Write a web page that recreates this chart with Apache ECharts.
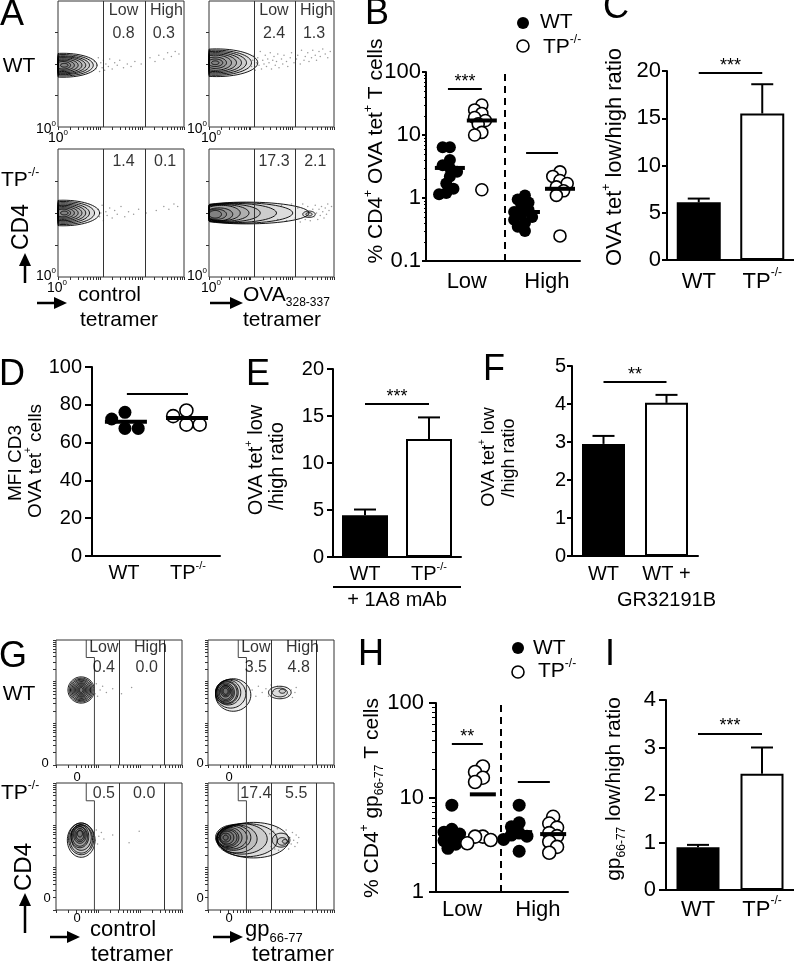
<!DOCTYPE html>
<html>
<head>
<meta charset="utf-8">
<title>Tetramer binding, WT vs TP-/-</title>
<script src="https://cdn.jsdelivr.net/npm/echarts@6/dist/echarts.min.js"></script>
<style>
  html, body { margin: 0; padding: 0; background: #fff; }
  #fig { width: 794px; height: 962px; }
</style>
</head>
<body>
<div id="fig"></div>
<script>
const FONT = '"Liberation Sans", Arial, Helvetica, sans-serif';

/* ---------- A: OVA tetramer flow plots (WT ctrl, WT OVA, TP ctrl, TP OVA) ---------- */
const aLowPct = ['0.8', '2.4', '1.4', '17.3'];
const aHighPct = ['0.3', '1.3', '0.1', '2.1'];
const aGates = [36, 69];
// contour rings: [centre x, centre y, half width, half height] on 0-100 display axes
const aContours = [
  [[4,49,27,9.5],[4,49,24,8.5],[4,49,21,7.5],[4,49,18,6.8],[4,49,15,6],[4,49,12,5],[4,49,9,4],[4,49,6,3],[5,49,3,1.5]],
  [[6,51,33,11],[5,51,29,10],[5,51,25,9],[5,51,21,8],[5,51,17,7],[5,51,13,6],[5,51,9,4.5],[5,51,6,3],[5,51,3,1.5]],
  [[4,50,29,10],[4,50,25,9],[4,50,21,8],[4,50,18,7],[4,50,15,6],[4,50,12,5],[4,50,9,4],[4,50,6,3],[5,50,3,1.5]],
  [[30,50,50,8.5],[25,50,42,8],[20,50,34,7.5],[15,50,26,7],[12,50,20,6.5],[10,50,15,6],[8,49,11,5],[6,49,8,4],[5,49,5,3],[80,49,5,2.5],[80,49,2.5,1.3]]
];
const aDots = [
  [[29,52],[30,46],[31,49],[32,55],[33,44],[34,51],[35,47],[36,53],[37,45],[38,50],[40,48],[41,54],[43,46],[45,51],[47,49],[49,53],[52,47],[55,50],[58,48],[61,52],[66,50],[73,55],[77,52],[80,57],[84,54],[87,59],[90,56],[93,60],[96,58]],
  [[34,48],[35,53],[36,57],[37,45],[38,51],[39,55],[40,49],[41,60],[42,46],[43,53],[44,50],[45,57],[46,48],[47,54],[48,51],[49,59],[50,46],[51,53],[52,56],[53,49],[54,52],[55,58],[56,47],[58,54],[59,50],[60,57],[62,52],[63,48],[65,55],[66,59],[68,51],[70,54],[71,57],[73,50],[74,61],[76,53],[77,56],[79,59],[80,52],[82,55],[83,61],[85,57],[86,53],[88,60],[89,56],[91,62],[93,58],[95,55],[97,60]],
  [[32,53],[33,47],[34,50],[35,56],[36,44],[38,51],[39,48],[41,54],[43,46],[45,52],[47,49],[50,55],[53,47],[56,51],[60,49],[64,53],[70,50],[78,52],[84,55],[88,53],[92,57],[95,55]],
  [[55,45],[58,56],[62,44],[66,57],[69,46],[71,54],[73,43],[75,57],[77,45],[79,55],[81,44],[83,53],[84,47],[85,56],[86,50],[87,45],[88,53],[89,48],[90,55],[91,51],[92,46],[93,54],[94,49],[95,57],[96,52],[98,55]]
];

/* ---------- B: % CD4+ OVA tet+ (log) ---------- */
const bWtLow = [6.4, 6.4, 4.0, 3.3, 3.0, 2.6, 2.2, 1.7, 1.4, 1.2, 1.15];
const bTpLow = [30, 25, 22, 19, 17, 15, 11, 10, 1.35];
const bWtHigh = [1.1, 0.95, 0.85, 0.75, 0.65, 0.6, 0.55, 0.5, 0.45, 0.4, 0.35, 0.3];
const bTpHigh = [2.6, 2.2, 1.9, 1.7, 1.5, 1.3, 1.1, 0.25];
const bMeans = [3.0, 17, 0.6, 1.4];
const bSig = [54, 5.2];

/* ---------- C ---------- */
const cCats = ['WT', 'TP-/-'];
const cMean = [6.1, 15.5];
const cErr = [6.5, 18.6];
const cSig = 19.8;

/* ---------- D: MFI CD3 ---------- */
const dWt = [76, 72.5, 67.5, 67.5];
const dTp = [77, 74, 69.5, 69.5];
const dMeans = [71, 73];
const dSig = 86;

/* ---------- E: + 1A8 mAb ---------- */
const eCats = ['WT', 'TP-/-'];
const eMean = [4.45, 12.55];
const eErr = [5.05, 14.85];
const eSig = 16.3;

/* ---------- F: GR32191B ---------- */
const fCats = ['WT', 'WT +\nGR32191B'];
const fMean = [2.95, 4.03];
const fErr = [3.16, 4.24];
const fSig = 4.58;

/* ---------- G: gp66-77 flow plots ---------- */
const gLowPct = ['0.4', '3.5', '0.5', '17.4'];
const gHighPct = ['0.0', '4.8', '0.0', '5.5'];
const gGates = [50.5, 86];
const gLowStep = [[30.5, 0], [30.5, 86], [24, 86], [24, 100]];
const gContours = [
  [[20,60,10.5,10.5],[20,60,9.5,9.5],[20,60,8.5,8.6],[20,60,7.5,7.8],[20,60,6.5,6.8],[20,60,5.5,5.8],[20,60,4.5,5],[20,60,3.5,4],[20,60,2.5,3],[20,60,1.5,2]],
  [[20,56,14,13],[18,57,12,11.5],[16,58,10,10],[15,58,9,9.2],[15,58,8,8.5],[14,58,7,7.5],[14,58,6,6.5],[14,58,5,5.5],[14,59,4,4.5],[14,59,3,3.5],[14,59,2,2.5],[57,58,9,5],[57,58,6,3.5],[59,59,2.5,1.6]],
  [[20,55,11,13.5],[20,56,10,12.5],[20,56,9,11.2],[20,57,8,10],[19,58,7,9],[19,58,6,7.8],[19,59,5,6.5],[19,59,4,5.2],[19,59,3,4],[19,60,2,2.5]],
  [[36,55,28,14],[31,55,24,13],[27,56,20,12],[23,56,16,11],[20,57,14,10],[19,57,12,9],[17,57,10,8],[16,57,8.5,7],[16,57,7,6],[15,57,5.5,5],[14,57,4,3.5],[14,57,2,2],[58,55,7,5.5],[59,54,4,3],[61,54,2,1.5]]
];
const gDots = [
  [[30,62],[31,57],[32,65],[33,55],[35,60],[37,63],[40,58],[45,61],[52,57],[60,62]],
  [[35,60],[38,55],[40,63],[43,58],[46,61],[48,55],[50,64],[52,59],[55,63],[62,62],[64,56],[66,60],[67,54],[69,58],[70,62]],
  [[30,60],[31,55],[32,63],[33,52],[34,58],[36,61],[38,56],[45,59],[58,53],[66,62]],
  [[49,60],[50,50],[52,62],[53,48],[55,64],[56,47],[62,63],[64,48],[65,57],[66,52],[67,61],[68,55],[69,50],[70,59],[71,53],[72,57]]
];

/* ---------- H: % CD4+ gp66-77 (log) ---------- */
const hWtLow = [8.3, 4.6, 4.3, 4.1, 3.8, 3.5, 3.2, 2.9];
const hTpLow = [21.3, 18.6, 16.2, 14.6, 3.85, 3.85, 3.55, 3.28];
const hWtHigh = [8.3, 5.4, 4.9, 4.2, 4.0, 3.9, 3.6, 2.7];
const hTpHigh = [6.25, 5.3, 4.8, 4.2, 3.9, 3.4, 3.0, 2.6];
const hMeans = [4.2, 10.8, 4.3, 4.1];
const hSig = [37, 14.6];

/* ---------- I ---------- */
const iCats = ['WT', 'TP-/-'];
const iMean = [0.9, 2.45];
const iErr = [0.95, 3.0];
const iSig = 3.3;

/* ================= helpers ================= */
const grid = [], xAxis = [], yAxis = [], series = [], graphic = [];

function rich(fs) {
  return {
    sup: { fontSize: Math.round(fs * 0.55), fontFamily: FONT, color: '#000', fill: '#000', verticalAlign: 'top', lineHeight: Math.round(fs * 0.6) },
    sub: { fontSize: Math.round(fs * 0.58), fontFamily: FONT, color: '#000', fill: '#000', verticalAlign: 'bottom', lineHeight: Math.round(fs * 0.6) }
  };
}
function lab(fs, extra) {
  return Object.assign({ show: true, color: '#000', fontSize: fs, fontFamily: FONT, rich: rich(fs),
    lineHeight: Math.round(fs * 1.3), showMinLabel: true, showMaxLabel: true, hideOverlap: false }, extra || {});
}
const LINE = { show: true, onZero: false, lineStyle: { color: '#000', width: 2 } };
function tick(len) { return { show: true, inside: false, length: len, lineStyle: { color: '#000', width: 2 } }; }

function addGrid(rect, extra) {
  grid.push(Object.assign({ left: rect[0], top: rect[1], width: rect[2], height: rect[3],
    containLabel: false, outerBoundsMode: 'none' }, extra || {}));
  return grid.length - 1;
}
function pushX(o) { xAxis.push(o); return xAxis.length - 1; }
function pushY(o) { yAxis.push(o); return yAxis.length - 1; }

function txt(x, y, text, fs, o) {
  o = o || {};
  return { type: 'text', x: x, y: y, rotation: o.rot || 0, silent: true, z: 100,
    style: { text: text, fontFamily: FONT, fontSize: fs, fill: '#000', align: o.align || 'center',
      verticalAlign: 'middle', lineHeight: Math.round(fs * 1.3), rich: rich(fs) } };
}
function arrow(x1, y1, x2, y2) {
  const a = Math.atan2(y2 - y1, x2 - x1), L = 13, W = 6;
  const bx = x2 - L * Math.cos(a), by = y2 - L * Math.sin(a);
  const nx = -Math.sin(a) * W, ny = Math.cos(a) * W;
  return [
    { type: 'line', silent: true, shape: { x1: x1, y1: y1, x2: bx, y2: by }, style: { stroke: '#000', lineWidth: 2.5 } },
    { type: 'polygon', silent: true, shape: { points: [[x2, y2], [bx + nx, by + ny], [bx - nx, by - ny]] }, style: { fill: '#000' } }
  ];
}

function logTicks(n) {
  const v = [];
  for (let d = 0; d < n; d++) for (let m = 1; m <= 9; m++) v.push((d + Math.log10(m)) / n * 100);
  v.push(100);
  return v;
}

// contour ring drawn through the axes, clamped to the plot box; the light fill
// builds up towards the dense core like a density plot
function ringItem(params, api) {
  const c = api.coord([api.value(0), api.value(1)]);
  const s = api.size([api.value(2), api.value(3)]);
  const cs = params.coordSys;
  const pts = [];
  for (let k = 0; k < 60; k++) {
    const t = k / 60 * Math.PI * 2;
    const px = Math.min(cs.x + cs.width, Math.max(cs.x, c[0] + s[0] * Math.cos(t)));
    const py = Math.min(cs.y + cs.height, Math.max(cs.y, c[1] + s[1] * Math.sin(t)));
    pts.push([px, py]);
  }
  return { type: 'polygon', shape: { points: pts }, style: { fill: 'rgba(0,0,0,0.07)', stroke: '#000', lineWidth: 0.9 } };
}

function errorBar(params, api) {
  const base = api.coord([api.value(0), api.value(1)]);
  const top = api.coord([api.value(0), api.value(2)]);
  return { type: 'group', children: [
    { type: 'line', shape: { x1: base[0], y1: base[1], x2: top[0], y2: top[1] }, style: { stroke: '#000', lineWidth: 2 } },
    { type: 'line', shape: { x1: top[0] - 11, y1: top[1], x2: top[0] + 11, y2: top[1] }, style: { stroke: '#000', lineWidth: 2 } }
  ] };
}

function sigPair(x0, x1, y, text) {
  return [
    { coord: [x0, y], lineStyle: { color: '#000', width: 2, type: 'solid' },
      label: { show: !!text, formatter: text || '', position: 'middle', distance: 0, color: '#000',
        fontSize: 18, fontFamily: FONT, lineHeight: 14 } },
    { coord: [x1, y] }
  ];
}
function dashAt(x) {
  return { xAxis: x, lineStyle: { color: '#000', width: 2, type: [7, 5] }, label: { show: false } };
}
function markLines(items) {
  return { silent: true, animation: false, symbol: 'none', data: items };
}

// simple beeswarm spread so that the dots of one group overlap only partly
function swarm(vals, cx, toPx, dot, ux, spread) {
  const f = spread || 1;
  const placed = [];
  return vals.map(function (v) {
    const y = toPx(v);
    let off = 0;
    for (let k = 0; k < 30; k++) {
      const o = (k % 2 ? -1 : 1) * Math.ceil(k / 2) * dot * 0.3 * f;
      if (placed.every(p => Math.hypot(p[0] - o, p[1] - y) >= dot * 0.6 * f)) { off = o; break; }
    }
    placed.push([off, y]);
    return [cx + off / ux, v];
  });
}

function dotSeries(xi, yi, pts, filled, size, ml) {
  const s = { type: 'scatter', xAxisIndex: xi, yAxisIndex: yi, data: pts, symbol: 'circle', symbolSize: size,
    animation: false, silent: true, z: 3,
    itemStyle: filled ? { color: '#000', opacity: 1 } : { color: '#fff', borderColor: '#000', borderWidth: 1.6, opacity: 1 } };
  if (ml) s.markLine = ml;
  return s;
}
function meanSeries(xi, yi, pts, w) {
  return { type: 'scatter', xAxisIndex: xi, yAxisIndex: yi, data: pts, symbol: 'rect', symbolSize: [w, 4],
    animation: false, silent: true, z: 5, itemStyle: { color: '#000', opacity: 1 } };
}

function logAxis(g, min, max, fs, tl, margin) {
  return { gridIndex: g, type: 'log', logBase: 10, min: min, max: max, position: 'left',
    axisLine: LINE, axisTick: tick(tl), splitLine: { show: false }, axisLabel: lab(fs, { margin: margin }) };
}
function minorLogAxis(g, min, max, len) {
  const vals = [];
  for (let p = Math.round(Math.log10(min)); p < Math.round(Math.log10(max)); p++)
    for (let m = 2; m <= 9; m++) vals.push(+(m * Math.pow(10, p)).toPrecision(3));
  return { gridIndex: g, type: 'log', logBase: 10, min: min, max: max, position: 'left',
    axisLine: { show: false }, axisLabel: { show: false }, splitLine: { show: false },
    axisTick: { show: true, inside: false, customValues: vals, length: len, lineStyle: { color: '#000', width: 1 } } };
}

function barPanel(rect, cats, mean, err, sig, sigText, yMax, yInt, fs, tl, margin, catMargin, bw) {
  const g = addGrid(rect);
  const xi = pushX({ gridIndex: g, type: 'category', data: cats, axisLine: LINE, axisTick: { show: false },
    axisLabel: lab(fs, { margin: catMargin, interval: 0, formatter: v => v.replace('-/-', '{sup|-/-}') }) });
  const yi = pushY({ gridIndex: g, type: 'value', min: 0, max: yMax, interval: yInt, axisLine: LINE,
    axisTick: tick(tl), splitLine: { show: false }, axisLabel: lab(fs, { margin: margin }) });
  series.push({ type: 'bar', xAxisIndex: xi, yAxisIndex: yi, barWidth: bw, animation: false, silent: true,
    data: mean.map((v, i) => ({ value: v, itemStyle: { color: i === 0 ? '#000' : '#fff', borderColor: '#000', borderWidth: 2 } })),
    markLine: markLines([sigPair(0, 1, sig, sigText)]) });
  series.push({ type: 'custom', xAxisIndex: xi, yAxisIndex: yi, animation: false, silent: true, z: 4,
    data: mean.map((v, i) => [i, v, err[i]]), encode: { x: 0, y: [1, 2] }, renderItem: errorBar });
}

function flowPanel(rect, contours, dots, labels, gates, step, yTicks) {
  const g = addGrid(rect, { show: true, borderColor: '#333', borderWidth: 1, backgroundColor: 'transparent' });
  const xi = pushX({ gridIndex: g, type: 'value', min: 0, max: 100, axisLine: { show: false }, splitLine: { show: false },
    axisLabel: { show: false }, axisTick: { show: true, inside: false, customValues: logTicks(3), length: 3, lineStyle: { color: '#333', width: 1 } } });
  const yi = pushY({ gridIndex: g, type: 'value', min: 0, max: 100, axisLine: { show: false }, splitLine: { show: false },
    axisLabel: { show: false }, axisTick: { show: true, inside: false, customValues: yTicks, length: 3, lineStyle: { color: '#333', width: 1 } } });
  series.push({ type: 'scatter', xAxisIndex: xi, yAxisIndex: yi, data: dots, symbolSize: 1.5, animation: false, silent: true,
    itemStyle: { color: '#999', opacity: 1 } });
  series.push({ type: 'custom', xAxisIndex: xi, yAxisIndex: yi, data: contours, encode: { x: 0, y: 1 },
    renderItem: ringItem, animation: false, silent: true, z: 3 });
  if (step) series.push({ type: 'line', xAxisIndex: xi, yAxisIndex: yi, data: step, showSymbol: false, symbol: 'none',
    animation: false, silent: true, lineStyle: { color: '#444', width: 1 } });
  series.push({ type: 'scatter', xAxisIndex: xi, yAxisIndex: yi, symbolSize: 0, animation: false, silent: true, z: 6,
    data: labels.map(l => ({ value: [l[0], l[1]], name: l[2] })),
    label: { show: true, position: 'inside', formatter: '{b}', color: '#000', fontFamily: FONT, fontSize: 16 },
    markLine: { silent: true, animation: false, symbol: 'none', label: { show: false },
      lineStyle: { color: '#333', width: 1, type: 'solid' }, data: gates.map(v => ({ xAxis: v })) } });
}

/* ================= A ================= */
const aRects = [[58, 1, 126, 126], [209, 1, 125, 126], [58, 149, 126, 128], [209, 149, 125, 128]];
aRects.forEach(function (r, i) {
  const labels = i < 2
    ? [[52, 92, 'Low'], [86, 92, 'High'], [52, 74, aLowPct[i]], [84, 74, aHighPct[i]]]
    : [[52, 90, aLowPct[i]], [85, 90, aHighPct[i]]];
  flowPanel(r, aContours[i], aDots[i], labels, aGates, null, [25, 50, 75]);
});

/* ================= B ================= */
(function () {
  const fs = 22;
  const g = addGrid([426, 72, 154, 189]);
  const xi = pushX({ gridIndex: g, type: 'value', min: 0, max: 4, axisLine: LINE, axisTick: { show: false }, splitLine: { show: false },
    axisLabel: lab(fs, { customValues: [1.06, 3.14], formatter: v => (v < 2 ? 'Low' : 'High'), margin: 6 }) });
  const yi = pushY(logAxis(g, 0.1, 100, fs, 4, 5));
  pushY(minorLogAxis(g, 0.1, 100, 2));
  const toPx = v => -Math.log10(v) * 63, ux = 38.5, d = 12;
  const ml = markLines([sigPair(0.57, 1.45, bSig[0], '***'), sigPair(2.6, 3.43, bSig[1], ''), dashAt(2.05)]);
  series.push(dotSeries(xi, yi, swarm(bWtLow, 0.62, toPx, d, ux), true, d, ml));
  series.push(dotSeries(xi, yi, swarm(bTpLow, 1.45, toPx, d, ux), false, d));
  series.push(dotSeries(xi, yi, swarm(bWtHigh, 2.57, toPx, d, ux), true, d));
  series.push(dotSeries(xi, yi, swarm(bTpHigh, 3.48, toPx, d, ux), false, d));
  series.push(meanSeries(xi, yi, [[0.62, bMeans[0]], [1.45, bMeans[1]], [2.57, bMeans[2]], [3.48, bMeans[3]]], 30));
})();

/* ================= C, E, F, I ================= */
barPanel([667, 71, 127, 189], cCats, cMean, cErr, cSig, '***', 20, 5, 22, 5, 6, 7, 44);
barPanel([333, 369, 128, 188], eCats, eMean, eErr, eSig, '***', 20, 5, 20, 6, 9, 4, 46);
barPanel([572, 366, 126, 190], fCats, fMean, fErr, fSig, '**', 5, 1, 20, 5, 6, 5, 43);
barPanel([666, 700, 128, 190], iCats, iMean, iErr, iSig, '***', 4, 1, 22, 7, 10, 5, 43);

/* ================= D ================= */
(function () {
  const fs = 20;
  const g = addGrid([92, 367, 128, 189]);
  const xi = pushX({ gridIndex: g, type: 'value', min: 0, max: 4, axisLine: LINE, axisTick: { show: false }, splitLine: { show: false },
    axisLabel: lab(fs, { customValues: [1.0, 3.0], formatter: v => (v < 2 ? 'WT' : 'TP{sup|-/-}'), margin: 4 }) });
  const yi = pushY({ gridIndex: g, type: 'value', min: 0, max: 100, interval: 20, axisLine: LINE, axisTick: tick(7),
    splitLine: { show: false }, axisLabel: lab(fs, { margin: 10 }) });
  const toPx = v => -v * 1.89, ux = 32, d = 13;
  series.push(dotSeries(xi, yi, swarm(dWt, 1.03, toPx, d, ux, 1.7), true, d, markLines([sigPair(1.09, 3.0, dSig, '')])));
  series.push(dotSeries(xi, yi, swarm(dTp, 2.95, toPx, d, ux, 1.7), false, d));
  series.push(meanSeries(xi, yi, [[1.06, dMeans[0]], [2.97, dMeans[1]]], 42));
})();

/* ================= G ================= */
const gRects = [[56, 640, 126, 125], [208, 640, 126, 125], [56, 783, 126, 127], [208, 783, 126, 127]];
gRects.forEach(function (r, i) {
  const labels = i < 2
    ? [[38, 93.6, 'Low'], [75, 93.6, 'High'], [38, 77.6, gLowPct[i]], [72, 77.6, gHighPct[i]]]
    : [[38, 92, gLowPct[i]], [70, 92, gHighPct[i]]];
  flowPanel(r, gContours[i], gDots[i], labels, gGates, gLowStep, logTicks(3));
});

/* ================= H ================= */
(function () {
  const fs = 22;
  const g = addGrid([436, 703, 132, 189]);
  const xi = pushX({ gridIndex: g, type: 'value', min: 0, max: 4, axisLine: LINE, axisTick: { show: false }, splitLine: { show: false },
    axisLabel: lab(fs, { customValues: [0.79, 3.09], formatter: v => (v < 2 ? 'Low' : 'High'), margin: 3 }) });
  const yi = pushY(logAxis(g, 1, 100, fs, 7, 12));
  pushY(minorLogAxis(g, 1, 100, 4));
  const toPx = v => -Math.log10(v) * 94.5, ux = 33, d = 13;
  const ml = markLines([sigPair(0.48, 1.42, hSig[0], '**'), sigPair(2.48, 3.45, hSig[1], ''), dashAt(1.97)]);
  series.push(dotSeries(xi, yi, swarm(hWtLow, 0.48, toPx, d, ux), true, d, ml));
  series.push(dotSeries(xi, yi, swarm(hTpLow, 1.42, toPx, d, ux), false, d));
  series.push(dotSeries(xi, yi, swarm(hWtHigh, 2.52, toPx, d, ux), true, d));
  series.push(dotSeries(xi, yi, swarm(hTpHigh, 3.55, toPx, d, ux), false, d));
  series.push(meanSeries(xi, yi, [[0.48, hMeans[0]], [1.42, hMeans[1]], [2.52, hMeans[2]], [3.55, hMeans[3]]], 26));
})();

/* ================= text, arrows, legends ================= */
const ROT = Math.PI / 2;
[['A', 12, 15], ['B', 377, 14], ['C', 616, 8], ['D', 12, 375], ['E', 258, 375], ['F', 494, 370],
 ['G', 13, 657], ['H', 371, 655], ['I', 610, 655]].forEach(p => graphic.push(txt(p[1], p[2], p[0], 36)));

// A
graphic.push(txt(19, 66, 'WT', 21), txt(1, 180, 'TP{sup|-/-}', 21, { align: 'left' }), txt(22, 227, 'CD4', 23, { rot: ROT }));
graphic.push(...arrow(25, 283, 25, 253), ...arrow(37, 303, 67, 303), ...arrow(210, 303, 243, 303));
graphic.push(txt(78, 295, 'control', 21, { align: 'left' }), txt(119, 320, 'tetramer', 21));
graphic.push(txt(243, 295, 'OVA{sub|328-337}', 21, { align: 'left' }), txt(282, 320, 'tetramer', 21));
[[56, 129, 58, 138], [207, 129, 211, 138], [56, 276, 57, 288], [207, 276, 211, 288]].forEach(p => {
  graphic.push(txt(p[0], p[1], '10{sup|0}', 14, { align: 'right' }), txt(p[2], p[3], '10{sup|0}', 14));
});

// B legend and label
graphic.push(txt(376, 151, '% CD4{sup|+} OVA tet{sup|+} T cells', 21, { rot: ROT }));
graphic.push({ type: 'circle', silent: true, shape: { cx: 523, cy: 23, r: 6 }, style: { fill: '#000' } });
graphic.push({ type: 'circle', silent: true, shape: { cx: 523, cy: 46, r: 6 }, style: { fill: '#fff', stroke: '#000', lineWidth: 1.6 } });
graphic.push(txt(540, 22, 'WT', 21, { align: 'left' }), txt(543, 47, 'TP{sup|-/-}', 21, { align: 'left' }));

// C, D, E, F labels
graphic.push(txt(615, 157, 'OVA tet{sup|+} low/high ratio', 22, { rot: ROT }));
graphic.push(txt(16, 463, 'MFI CD3', 19, { rot: ROT }), txt(36, 461, 'OVA tet{sup|+} cells', 19, { rot: ROT }));
graphic.push(txt(256, 460, 'OVA tet{sup|+} low', 20, { rot: ROT }), txt(277, 466, '/high ratio', 20, { rot: ROT }));
graphic.push({ type: 'line', silent: true, shape: { x1: 333, y1: 587, x2: 461, y2: 587 }, style: { stroke: '#000', lineWidth: 2 } });
graphic.push(txt(397, 600, '+ 1A8 mAb', 20));
graphic.push(txt(489, 457, 'OVA tet{sup|+} low', 18, { rot: ROT }), txt(509, 458, '/high ratio', 18, { rot: ROT }));

// G
graphic.push(txt(19, 694, 'WT', 21), txt(1, 793, 'TP{sup|-/-}', 21, { align: 'left' }), txt(24, 867, 'CD4', 24, { rot: ROT }));
graphic.push(...arrow(25, 933, 25, 893), ...arrow(50, 937, 80, 937), ...arrow(213, 937, 243, 937));
graphic.push(txt(90, 930, 'control', 22, { align: 'left' }), txt(132, 955, 'tetramer', 22));
graphic.push(txt(245, 930, 'gp{sub|66-77}', 22, { align: 'left' }), txt(293, 955, 'tetramer', 22));
[[45, 763], [77, 777], [200, 763], [229, 777], [47, 898], [77, 918], [200, 898], [229, 918]].forEach(p => graphic.push(txt(p[0], p[1], '0', 13)));

// H, I
graphic.push(txt(372, 798, '% CD4{sup|+} gp{sub|66-77} T cells', 21, { rot: ROT }));
graphic.push({ type: 'circle', silent: true, shape: { cx: 518, cy: 648, r: 6 }, style: { fill: '#000' } });
graphic.push({ type: 'circle', silent: true, shape: { cx: 518, cy: 672, r: 6 }, style: { fill: '#fff', stroke: '#000', lineWidth: 1.6 } });
graphic.push(txt(533, 648, 'WT', 21, { align: 'left' }), txt(538, 671, 'TP{sup|-/-}', 21, { align: 'left' }));
graphic.push(txt(614, 789, 'gp{sub|66-77} low/high ratio', 21, { rot: ROT }));

const chart = echarts.init(document.getElementById('fig'), null, { renderer: 'canvas' });
chart.setOption({
  backgroundColor: '#fff',
  animation: false,
  textStyle: { fontFamily: FONT, color: '#000' },
  grid: grid,
  xAxis: xAxis,
  yAxis: yAxis,
  series: series,
  graphic: graphic
});
</script>
</body>
</html>
